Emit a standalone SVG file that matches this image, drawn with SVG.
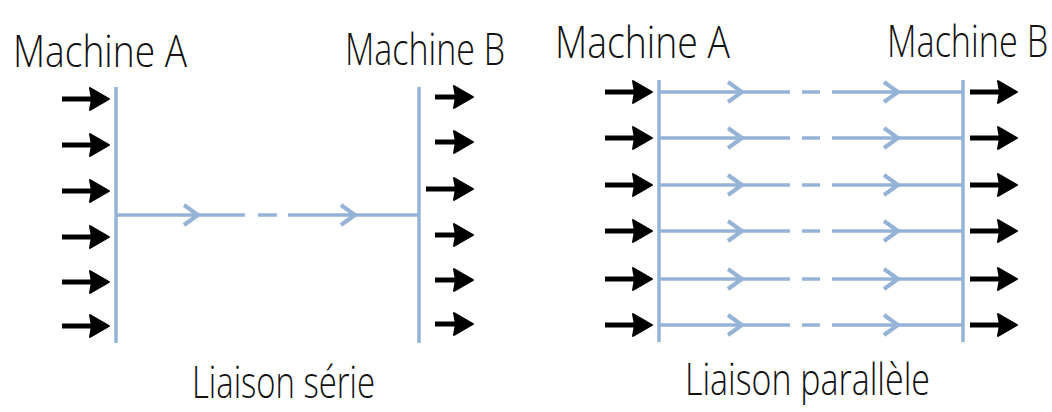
<svg xmlns="http://www.w3.org/2000/svg" xmlns:xlink="http://www.w3.org/1999/xlink" width="1052" height="412" viewBox="0 0 1052 412">
<style>
.bar{stroke:#95b3d7;stroke-width:3.5;fill:none}
.link{stroke:#95b3d7;stroke-width:3.5;fill:none}
.chev{stroke:#95b3d7;stroke-width:4;fill:none;stroke-linejoin:miter}
.lbl{font-family:"Open Sans","Liberation Sans",sans-serif;font-weight:300;fill:#111;font-size:45px}
.cap{font-family:"Open Sans","Liberation Sans",sans-serif;font-weight:300;fill:#111;font-size:44px}
</style>
<defs>
<g id="blk">
<line x1="-47" y1="0" x2="-16" y2="0" stroke="#000" stroke-width="5"/>
<polygon points="0,0 -19,-11 -17,0 -19,11" fill="#000" stroke="#000" stroke-width="2" stroke-linejoin="round"/>
</g>
<g id="blks">
<line x1="-38" y1="0" x2="-16" y2="0" stroke="#000" stroke-width="5"/>
<polygon points="0,0 -19,-11 -17,0 -19,11" fill="#000" stroke="#000" stroke-width="2" stroke-linejoin="round"/>
</g>
<path id="chv" d="M-14,-10 L0,0 L-14,10"/>
</defs>

<g id="serie-machine-a">
<text class="lbl" x="13" y="67" textLength="174" lengthAdjust="spacingAndGlyphs">Machine A</text>
<line class="bar" x1="116" y1="87" x2="116" y2="343"/>
<use xlink:href="#blk" x="109" y="99"/>
<use xlink:href="#blk" x="109" y="145"/>
<use xlink:href="#blk" x="109" y="191"/>
<use xlink:href="#blk" x="109" y="237"/>
<use xlink:href="#blk" x="109" y="282"/>
<use xlink:href="#blk" x="109" y="326"/>
</g>

<g id="serie-machine-b">
<text class="lbl" x="345" y="65" textLength="160" lengthAdjust="spacingAndGlyphs">Machine B</text>
<line class="bar" x1="419" y1="87" x2="419" y2="343"/>
<use xlink:href="#blks" x="473" y="97"/>
<use xlink:href="#blks" x="473" y="142"/>
<use xlink:href="#blk" x="473" y="189"/>
<use xlink:href="#blks" x="473" y="235"/>
<use xlink:href="#blks" x="473" y="280"/>
<use xlink:href="#blks" x="473" y="324"/>
</g>

<g id="parallele-machine-a">
<text class="lbl" x="555" y="58" textLength="175" lengthAdjust="spacingAndGlyphs">Machine A</text>
<line class="bar" x1="659" y1="80" x2="659" y2="342"/>
<use xlink:href="#blk" x="652" y="92"/>
<use xlink:href="#blk" x="652" y="138"/>
<use xlink:href="#blk" x="652" y="185"/>
<use xlink:href="#blk" x="652" y="231"/>
<use xlink:href="#blk" x="652" y="279"/>
<use xlink:href="#blk" x="652" y="325"/>
</g>

<g id="parallele-machine-b">
<text class="lbl" transform="translate(887,57) scale(0.76,1)" x="0" y="0" font-size="43">Machine B</text>
<line class="bar" x1="963" y1="80" x2="963" y2="342"/>
<use xlink:href="#blk" x="1017" y="92"/>
<use xlink:href="#blk" x="1017" y="138"/>
<use xlink:href="#blk" x="1017" y="185"/>
<use xlink:href="#blk" x="1017" y="231"/>
<use xlink:href="#blk" x="1017" y="279"/>
<use xlink:href="#blk" x="1017" y="325"/>
</g>

<g id="connectors">
<g id="serie-link">
<path class="link" d="M116,215 H245 M258,215 H277 M288,215 H419"/>
<use xlink:href="#chv" class="chev" x="198" y="215"/>
<use xlink:href="#chv" class="chev" x="355" y="215"/>
</g>
<g id="parallel-links">
<path class="link" d="M659,92 H790 M802,92 H820 M832,92 H963"/>
<path class="link" d="M659,138 H790 M802,138 H820 M832,138 H963"/>
<path class="link" d="M659,185 H790 M802,185 H820 M832,185 H963"/>
<path class="link" d="M659,231 H790 M802,231 H820 M832,231 H963"/>
<path class="link" d="M659,279 H790 M802,279 H820 M832,279 H963"/>
<path class="link" d="M659,325 H790 M802,325 H820 M832,325 H963"/>
<use xlink:href="#chv" class="chev" x="742" y="92"/>
<use xlink:href="#chv" class="chev" x="898" y="92"/>
<use xlink:href="#chv" class="chev" x="742" y="138"/>
<use xlink:href="#chv" class="chev" x="898" y="138"/>
<use xlink:href="#chv" class="chev" x="742" y="185"/>
<use xlink:href="#chv" class="chev" x="898" y="185"/>
<use xlink:href="#chv" class="chev" x="742" y="231"/>
<use xlink:href="#chv" class="chev" x="898" y="231"/>
<use xlink:href="#chv" class="chev" x="742" y="279"/>
<use xlink:href="#chv" class="chev" x="898" y="279"/>
<use xlink:href="#chv" class="chev" x="742" y="325"/>
<use xlink:href="#chv" class="chev" x="898" y="325"/>
</g>
</g>

<g id="captions">
<text class="cap" x="192" y="398" textLength="183" lengthAdjust="spacingAndGlyphs">Liaison série</text>
<text class="cap" x="685" y="395" textLength="245" lengthAdjust="spacingAndGlyphs">Liaison parallèle</text>
</g>
</svg>
